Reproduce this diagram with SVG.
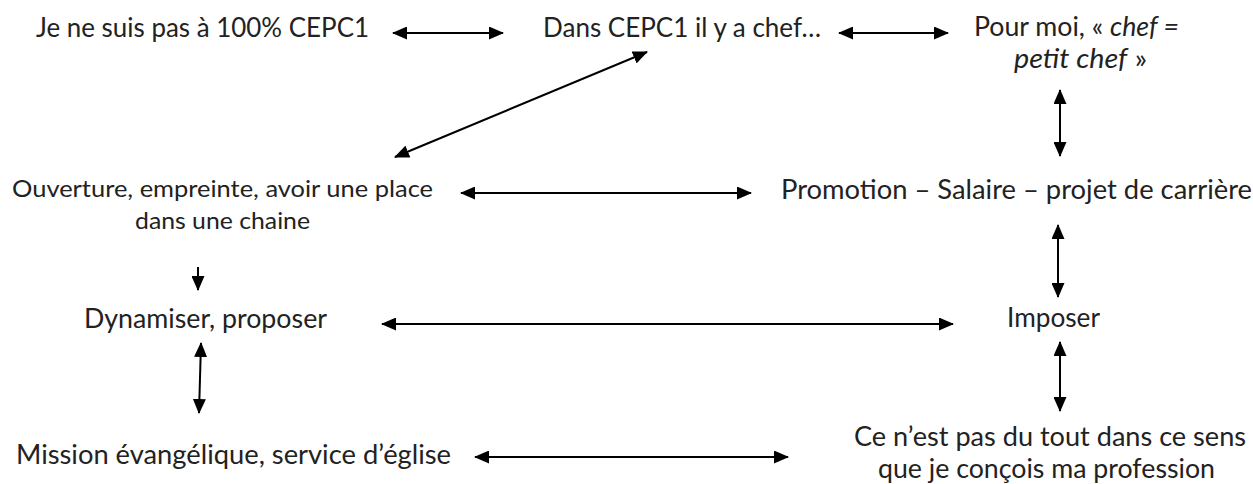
<svg xmlns="http://www.w3.org/2000/svg" width="1253" height="484" viewBox="0 0 1253 484">
<defs>
<style>
.t{font-family:Lato,"Open Sans","Liberation Sans",sans-serif;font-size:27px;fill:#222}
.s{font-size:24px}
.c{stroke:#000;stroke-width:2;fill:none;marker-end:url(#ah)}
.d{marker-start:url(#ah)}
</style>
<marker id="ah" viewBox="0 0 15 13" refX="14" refY="6.5" markerWidth="15" markerHeight="13" markerUnits="userSpaceOnUse" orient="auto-start-reverse">
<path d="M0,0 L15,6.5 L0,13 z" fill="#000"/>
</marker>
</defs>
<rect width="1253" height="484" fill="#fff"/>
<g id="n1"><text class="t" x="36" y="37" textLength="333" lengthAdjust="spacingAndGlyphs">Je ne suis pas à 100% CEPC1</text></g>
<g id="n2"><text class="t" x="543" y="37" textLength="278" lengthAdjust="spacingAndGlyphs">Dans CEPC1 il y a chef…</text></g>
<g id="n3"><text class="t" x="974" y="36" textLength="205" lengthAdjust="spacingAndGlyphs">Pour moi, « <tspan font-style="italic">chef =</tspan></text>
<text class="t" x="1014" y="68" textLength="133" lengthAdjust="spacingAndGlyphs"><tspan font-style="italic">petit chef</tspan> »</text></g>
<g id="n4"><text class="t s" x="12" y="197" textLength="421" lengthAdjust="spacingAndGlyphs">Ouverture, empreinte,  avoir une place</text>
<text class="t s" x="135" y="229" textLength="175" lengthAdjust="spacingAndGlyphs">dans une chaine</text></g>
<g id="n5"><text class="t" x="781" y="199" textLength="471" lengthAdjust="spacingAndGlyphs">Promotion – Salaire – projet de carrière</text></g>
<g id="n6"><text class="t" x="84" y="328" textLength="243" lengthAdjust="spacingAndGlyphs">Dynamiser, proposer</text></g>
<g id="n7"><text class="t" x="1007" y="327" textLength="93" lengthAdjust="spacingAndGlyphs">Imposer</text></g>
<g id="n8"><text class="t" x="16" y="464" textLength="435" lengthAdjust="spacingAndGlyphs">Mission évangélique, service d’église</text></g>
<g id="n9"><text class="t" x="854" y="446" textLength="392" lengthAdjust="spacingAndGlyphs">Ce n’est pas du tout dans ce sens</text>
<text class="t" x="878" y="478" textLength="337" lengthAdjust="spacingAndGlyphs">que je conçois ma profession</text></g>
<g id="connectors">
<line class="c d" x1="393" y1="33" x2="503" y2="33"/>
<line class="c d" x1="839" y1="33" x2="948" y2="33"/>
<line class="c d" x1="1060" y1="90" x2="1060" y2="156"/>
<line class="c d" x1="395" y1="157" x2="647" y2="52"/>
<line class="c d" x1="461" y1="193" x2="751" y2="193"/>
<line class="c d" x1="1058" y1="225" x2="1058" y2="297"/>
<line class="c" x1="198" y1="267" x2="198" y2="290"/>
<line class="c d" x1="382" y1="324" x2="953" y2="324"/>
<line class="c d" x1="201" y1="343" x2="199" y2="413"/>
<line class="c d" x1="1060" y1="342" x2="1060" y2="411"/>
<line class="c d" x1="475" y1="457" x2="788" y2="457"/>
</g>
</svg>
